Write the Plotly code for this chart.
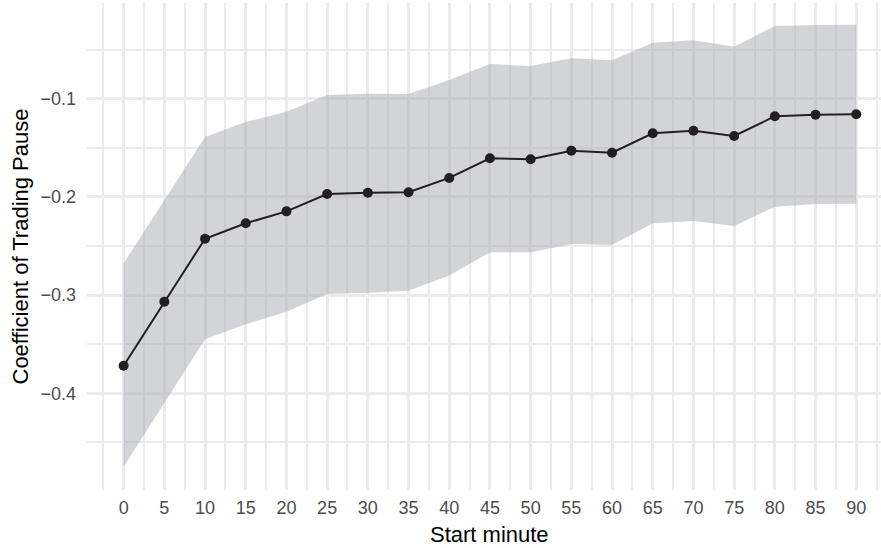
import plotly.graph_objects as go

minutes = [0, 5, 10, 15, 20, 25, 30, 35, 40, 45, 50, 55, 60, 65, 70, 75, 80, 85, 90]
coef = [-0.372, -0.3067, -0.2426, -0.2269, -0.2147, -0.1971, -0.1957, -0.1953, -0.1807,
        -0.1607, -0.1617, -0.1529, -0.1550, -0.1352, -0.1326, -0.1380, -0.1179, -0.1163, -0.1159]
upper = [-0.2676, -0.204, -0.139, -0.1237, -0.1132, -0.0962, -0.0949, -0.0952, -0.0810,
         -0.0647, -0.0667, -0.0589, -0.0609, -0.0430, -0.0405, -0.0470, -0.0260, -0.0250, -0.0246]
lower = [-0.4747, -0.410, -0.345, -0.3297, -0.3169, -0.2989, -0.2976, -0.2955, -0.2800,
         -0.2564, -0.2564, -0.2480, -0.2490, -0.2269, -0.2245, -0.2296, -0.2100, -0.2072, -0.2069]
y_ticks = [-0.4, -0.3, -0.2, -0.1]
y_labels = ["\u22120.4", "\u22120.3", "\u22120.2", "\u22120.1"]
x_title = "Start minute"
y_title = "Coefficient of Trading Pause"

FONT = "Liberation Sans, Arial, sans-serif"
GRID = "#EBEBEB"

fig = go.Figure()
fig.add_trace(go.Scatter(x=minutes, y=upper, mode="lines", line=dict(width=0),
                         hoverinfo="skip", showlegend=False))
fig.add_trace(go.Scatter(x=minutes, y=lower, mode="lines", line=dict(width=0),
                         fill="tonexty", fillcolor="rgba(168,170,175,0.5)",
                         hoverinfo="skip", showlegend=False))
fig.add_trace(go.Scatter(x=minutes, y=coef, mode="lines+markers",
                         line=dict(color="#231f20", width=2),
                         marker=dict(color="#231f20", size=10),
                         showlegend=False))

fig.update_layout(
    width=881, height=548,
    margin=dict(l=87, r=0, t=3, b=58),
    paper_bgcolor="white", plot_bgcolor="white",
    font=dict(family=FONT),
    xaxis=dict(
        range=[-4.5, 93.04], tickvals=minutes, ticktext=[str(m) for m in minutes],
        showgrid=True, gridcolor=GRID, gridwidth=2.6, zeroline=False, showline=False,
        ticks="", tickfont=dict(size=18, color="#4d4d4d"), ticklabelstandoff=5,
        minor=dict(tickvals=[m - 2.5 for m in minutes] + [92.5], showgrid=True,
                   gridcolor=GRID, gridwidth=2.4, ticks=""),
    ),
    yaxis=dict(
        range=[-0.49847, -0.00254], tickvals=y_ticks, ticktext=y_labels,
        showgrid=True, gridcolor=GRID, gridwidth=2.6, zeroline=False, showline=False,
        ticks="", tickfont=dict(size=18, color="#4d4d4d"), ticklabelstandoff=10,
        minor=dict(tickvals=[-0.45, -0.35, -0.25, -0.15, -0.05], showgrid=True,
                   gridcolor=GRID, gridwidth=2.4, ticks=""),
    ),
    annotations=[
        dict(text=x_title, x=45, xref="x", y=0, yref="paper", yshift=-44,
             xanchor="center", yanchor="middle", showarrow=False,
             font=dict(size=22, color="black", family=FONT)),
        dict(text=y_title, x=0, xref="paper", xshift=-67, y=0.5, yref="paper",
             textangle=-90, xanchor="center", yanchor="middle", showarrow=False,
             font=dict(size=22, color="black", family=FONT)),
    ],
)

fig.write_html("out.html")
